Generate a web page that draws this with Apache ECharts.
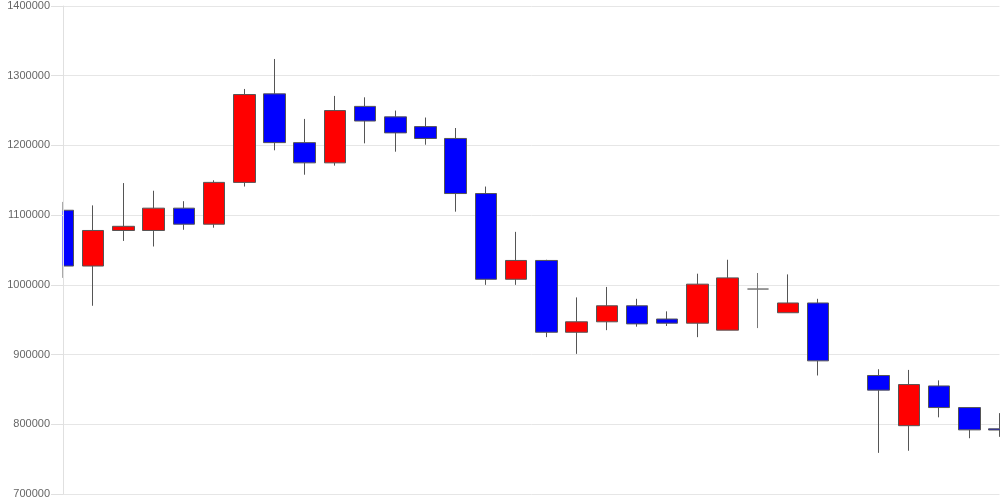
<!DOCTYPE html>
<html>
<head>
<meta charset="utf-8">
<script src="https://cdn.jsdelivr.net/npm/echarts@6/dist/echarts.min.js"></script>
<style>html,body{margin:0;padding:0;background:#fff}#c{width:1000px;height:500px}</style>
</head>
<body>
<div id="c"></div>
<script>
const categories = ['1','2','3','4','5','6','7','8','9','10','11','12','13','14','15','16','17','18','19','20','21','22','23','24','25','26','27','28','29','30','31','32'];
const opens  = [1107000,1027000,1078000,1078000,1110000,1087000,1147000,1274000,1204000,1175000,1256000,1241000,1227000,1210000,1131000,1008000,1035000,932000,947000,970000,951000,945000,935000,994000,960000,974000,null,870000,798000,855000,824000,793500];
const closes = [1027000,1078000,1084000,1110000,1087000,1147000,1273000,1204000,1175000,1250000,1235000,1218000,1210000,1131000,1008000,1035000,932000,947000,970000,944000,945000,1001000,1010000,994000,974000,891000,null,849000,857000,824000,792000,791800];
const lows   = [1010000,970000,1063000,1055000,1079000,1082000,1141000,1193000,1158000,1171000,1203000,1191000,1201000,1105000,1000000,1000000,925000,901000,935000,940000,941000,925000,935000,938000,960000,870000,null,759000,762000,810000,780000,782000];
const highs  = [1119000,1114000,1146000,1135000,1120000,1150000,1281000,1324000,1238000,1271000,1269000,1250000,1240000,1225000,1141000,1076000,1036000,982000,997000,980000,962000,1016000,1036000,1017000,1015000,980000,null,879000,878000,863000,824000,816000];
const yTicks = [700000, 800000, 900000, 1000000, 1100000, 1200000, 1300000, 1400000];

const data = categories.map((c, i) => opens[i] == null ? '-' : [opens[i], closes[i], lows[i], highs[i]]);

const GRID_LEFT = 63;
const chart = echarts.init(document.getElementById('c'));
const yMin = yTicks[0], yMax = yTicks[yTicks.length - 1];
chart.setOption({
  animation: false,
  grid: { left: GRID_LEFT, right: 0.5, top: 6, bottom: 6, containLabel: false },
  xAxis: {
    type: 'category',
    data: categories,
    boundaryGap: false,
    axisLine: { show: false },
    axisTick: { show: false },
    axisLabel: { show: false },
    splitLine: { show: false }
  },
  yAxis: [{
    type: 'value',
    min: yMin, max: yMax, interval: 100000,
    z: 0,
    axisLine: { show: false },
    axisTick: { show: false },
    axisLabel: { show: false },
    splitLine: { show: true, lineStyle: { color: '#e6e6e6' } }
  }, {
    type: 'value',
    position: 'left',
    min: yMin, max: yMax, interval: 100000,
    z: 5,
    axisLine: { show: true, lineStyle: { color: '#e0e0e0' } },
    axisTick: { show: true, length: 12, lineStyle: { color: '#e0e0e0' } },
    axisLabel: { color: '#666', fontSize: 11, fontFamily: 'Liberation Sans, Arial, sans-serif', margin: 13, formatter: v => String(v) },
    splitLine: { show: false }
  }],
  graphic: [{
    type: 'rect',
    z: 4,
    silent: true,
    shape: { x: GRID_LEFT - 14, y: 0, width: 14 - 0.5, height: 500 },
    style: { fill: '#fff' }
  }],
  series: [{
    type: 'candlestick',
    data: data,
    barWidth: 22,
    z: 2,
    itemStyle: {
      color: '#ff0000',
      color0: '#0000ff',
      borderColor: '#555',
      borderColor0: '#555',
      borderColorDoji: '#777',
      borderWidth: 1
    }
  }]
});
</script>
</body>
</html>
